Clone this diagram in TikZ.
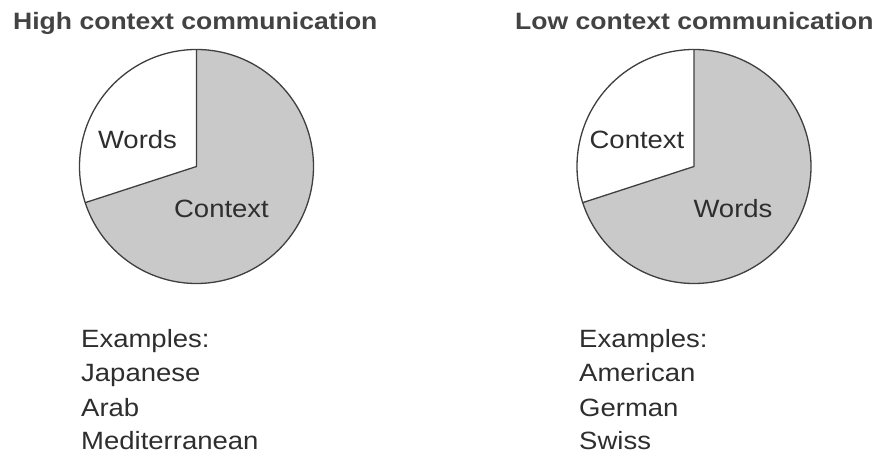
\documentclass[tikz,border=0pt]{standalone}
\usepackage{fontspec}
\setmainfont[FakeStretch=1.1]{Liberation Sans}
\newfontfamily\titlefont[FakeStretch=1.12]{Liberation Sans}
\usetikzlibrary{calc}
\definecolor{txt}{HTML}{2E2E2E}
\definecolor{piegray}{HTML}{C9C9C9}
\definecolor{pieline}{HTML}{3F3F3F}
\begin{document}
\begin{tikzpicture}[x=1pt,y=1pt,
  lbl/.style={inner sep=0pt,text=txt,font=\fontsize{25}{30}\selectfont},
  ttl/.style={inner sep=0pt,text=txt!90!white,font=\titlefont\fontsize{23.7}{28}\selectfont\bfseries},
  pieedge/.style={draw=pieline,line width=1.3pt,line join=round}]
\useasboundingbox (0,0) rectangle (876,454);
% left pie
\coordinate (lc) at (196.5,287.5);
\fill[piegray] (lc) circle[radius=117];
\fill[white] (lc) -- ++(90:117) arc[start angle=90,end angle=198,radius=117] -- cycle;
\draw[pieedge] (lc) circle[radius=117];
\draw[pieedge] ($(lc)+(90:117)$) -- (lc) -- ($(lc)+(198:117)$);
% right pie
\coordinate (rc) at (694,287.5);
\fill[piegray] (rc) circle[radius=117];
\fill[white] (rc) -- ++(90:117) arc[start angle=90,end angle=198,radius=117] -- cycle;
\draw[pieedge] (rc) circle[radius=117];
\draw[pieedge] ($(rc)+(90:117)$) -- (rc) -- ($(rc)+(198:117)$);
% titles
\node[ttl,anchor=base west] (t1) at (13,424.5) {High context communication};
\node[ttl,anchor=base west] (t2) at (515,424) {Low context communication};
% pie labels
\node[lbl,anchor=base] (w1) at (137.5,305) {Words};
\node[lbl,anchor=base] (c1) at (221.5,236) {Context};
\node[lbl,anchor=base] (c2) at (637,305) {Context};
\node[lbl,anchor=base] (w2) at (733,236) {Words};
% lists
\node[lbl,anchor=base west] (e1) at (81,106.7) {Examples:};
\node[lbl,anchor=base west] (l1a) at (81,72.3) {Japanese};
\node[lbl,anchor=base west] (l1b) at (81,37.8) {Arab};
\node[lbl,anchor=base west] (l1c) at (81,4.5) {Mediterranean};
\node[lbl,anchor=base west] (e2) at (579,106.7) {Examples:};
\node[lbl,anchor=base west] (l2a) at (579,72.3) {American};
\node[lbl,anchor=base west] (l2b) at (579,37.8) {German};
\node[lbl,anchor=base west] (l2c) at (579,4.5) {Swiss};
\end{tikzpicture}
\end{document}
